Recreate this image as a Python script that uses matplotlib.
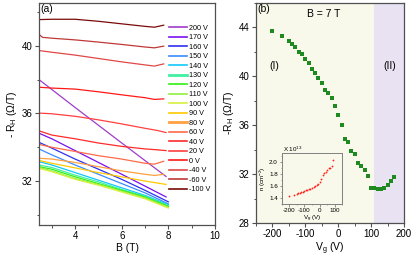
import matplotlib
matplotlib.use("Agg")
import matplotlib.pyplot as plt
from matplotlib.ticker import MultipleLocator

plt.rcParams['font.family'] = ['Liberation Sans', 'DejaVu Sans']
plt.rcParams['mathtext.fontset'] = 'custom'
plt.rcParams['mathtext.rm'] = 'Liberation Sans'
plt.rcParams['mathtext.it'] = 'Liberation Sans'
plt.rcParams['axes.unicode_minus'] = False

### data, panel (a): R_H vs B for each gate voltage ###
labels = ['200 V', '170 V', '160 V', '150 V', '140 V', '130 V', '120 V', '110 V', '100 V',
          '90 V', '80 V', '60 V', '40 V', '20 V', '0 V', '-40 V', '-60 V', '-100 V']
colors = ['#a03cc8', '#7a10f0', '#3030f0', '#3a8cff', '#10c8f8', '#40f0a0', '#30f010', '#90f040',
          '#d8f040', '#ffc800', '#ffa040', '#ff6a48', '#ff2a2a', '#ff4040', '#ff1818',
          '#e04848', '#c03838', '#7a0a0a']

B_200 = [2.45, 4, 6, 7.9]
R_200 = [38.0, 36.35, 34.25, 32.27]
B_170 = [2.45, 3, 4, 5, 6, 7, 7.9]
R_170 = [34.83, 34.5, 33.8, 33.1, 32.4, 31.7, 31.06]
B_long = [2.45, 3, 4, 5, 6, 7, 8]
R_160 = [34.29, 33.95, 33.3, 32.7, 32.1, 31.45, 30.77]
R_150 = [33.9, 33.55, 32.95, 32.4, 31.85, 31.3, 30.65]
R_140 = [33.15, 32.95, 32.5, 32.05, 31.6, 31.15, 30.6]
R_130 = [32.95, 32.8, 32.35, 31.95, 31.5, 31.1, 30.55]
R_120 = [32.85, 32.7, 32.25, 31.85, 31.45, 31.05, 30.5]
R_110 = [32.8, 32.6, 32.15, 31.8, 31.4, 31.0, 30.45]
R_100 = [32.75, 32.55, 32.1, 31.75, 31.35, 30.95, 30.4]
B_90 = [2.45, 3, 4, 5, 6, 7, 7.9]
R_90 = [33.22, 33.05, 32.78, 32.5, 32.25, 32.0, 31.8]
B_80 = [2.45, 3, 4, 5, 6, 7, 7.4, 7.8]
R_80 = [33.35, 33.3, 33.1, 32.85, 32.6, 32.4, 32.33, 32.4]
B_60 = [2.45, 3, 4, 5, 6, 7, 7.4, 7.8]
R_60 = [34.17, 34.0, 33.75, 33.5, 33.3, 33.05, 33.0, 33.17]
B_40 = [2.45, 3, 4, 5, 6, 7, 7.5, 7.9]
R_40 = [34.97, 34.72, 34.5, 34.25, 34.05, 33.9, 33.85, 33.8]
R_20 = [36.02, 35.98, 35.83, 35.62, 35.38, 35.12, 35.0, 34.87]
B_neg = [2.45, 3, 4, 5, 6, 7, 7.4, 7.8]
R_0 = [37.55, 37.5, 37.44, 37.28, 37.1, 36.93, 36.83, 36.86]
R_m40 = [39.72, 39.62, 39.45, 39.25, 39.05, 38.87, 38.8, 38.93]
B_m60 = [2.45, 2.6, 3, 4, 5, 6, 7, 7.4, 7.8]
R_m60 = [40.68, 40.5, 40.45, 40.35, 40.22, 40.08, 39.93, 39.88, 39.98]
R_m100 = [41.55, 41.57, 41.57, 41.45, 41.3, 41.15, 41.1, 41.22]

curves = [(B_200, R_200), (B_170, R_170), (B_long, R_160), (B_long, R_150), (B_long, R_140),
          (B_long, R_130), (B_long, R_120), (B_long, R_110), (B_long, R_100), (B_90, R_90),
          (B_80, R_80), (B_60, R_60), (B_40, R_40), (B_40, R_20), (B_neg, R_0),
          (B_neg, R_m40), (B_m60, R_m60), (B_neg, R_m100)]

### data, panel (b): R_H at B = 7 T vs gate voltage ###
Vg = [-200, -170, -150, -140, -130, -120, -110, -100, -90, -80, -70, -60, -50, -40, -30,
      -20, -10, 0, 10, 20, 30, 40, 50, 60, 70, 80, 90, 100, 110, 120, 130, 140, 150, 160, 170]
RH7 = [43.65, 43.27, 42.91, 42.64, 42.34, 41.96, 41.83, 41.44, 41.06, 40.55, 40.25, 39.84,
       39.43, 38.89, 38.64, 38.2, 37.53, 36.82, 36.0, 34.83, 34.61, 33.88, 33.61, 32.9, 32.68,
       32.36, 31.87, 30.89, 30.89, 30.78, 30.78, 30.89, 31.1, 31.4, 31.78]

# inset: carrier density
Vg_in = [-200, -170, -150, -140, -130, -120, -110, -100, -90, -80, -70, -60, -50, -40,
         -30, -20, -10, 0, 10, 20, 30, 40, 50, 60, 70, 80, 90]
n_in = [1.44, 1.45, 1.47, 1.48, 1.49, 1.50, 1.51, 1.52, 1.53, 1.54, 1.55, 1.56, 1.57, 1.585,
        1.60, 1.615, 1.635, 1.67, 1.72, 1.79, 1.81, 1.84, 1.86, 1.89, 1.90, 1.93, 2.03]

W, H = 415, 258
fig = plt.figure(figsize=(W / 100, H / 100), dpi=100)

def fx(px):
    return px / W

def fy(py):
    return 1 - py / H

spine_col = '#505050'

def style(ax, fs=7):
    for s in ax.spines.values():
        s.set_color(spine_col)
        s.set_linewidth(0.9)
    ax.tick_params(which='both', direction='out', color=spine_col, labelsize=fs, pad=1.5)
    ax.tick_params(which='major', length=3, width=0.8)
    ax.tick_params(which='minor', length=1.8, width=0.7)

# ---- panel (a)
ax1 = fig.add_axes([fx(39), fy(225), fx(215 - 39), (225 - 2.7) / H])
for (b, r), lab, c in zip(curves, labels, colors):
    ax1.plot(b, r, color=c, lw=0.9, label=lab)
ax1.set_xlim(2.45, 10)
ax1.set_ylim(29.4, 42.55)
ax1.xaxis.set_major_locator(MultipleLocator(2))
ax1.xaxis.set_minor_locator(MultipleLocator(1))
ax1.yaxis.set_major_locator(MultipleLocator(4))
ax1.yaxis.set_minor_locator(MultipleLocator(2))
style(ax1)
ax1.set_xlabel('B (T)', fontsize=7.5, labelpad=1)
ax1.set_ylabel('- R$_H$ ($\\Omega$/T)', fontsize=7.5, labelpad=2)
ax1.text(0.01, 0.995, '(a)', transform=ax1.transAxes, va='top', ha='left', fontsize=7.5)

leg = ax1.legend(loc='upper left', bbox_to_anchor=(fx(169), fy(24.5)),
                 bbox_transform=fig.transFigure, frameon=False, fontsize=5.2,
                 handlelength=2.5, handletextpad=0.3, labelspacing=0.34,
                 borderpad=0, borderaxespad=0)
for h, lab in zip(leg.get_lines(), labels):
    h.set_linewidth(2.0 if lab in ('130 V', '80 V') else 1.2)

# ---- panel (b)
ax2 = fig.add_axes([fx(256), fy(223), fx(404 - 256), (223 - 2.7) / H])
ax2.axvspan(-250, 110, color='#f8f9ea', lw=0, zorder=0)
ax2.axvspan(110, 200, color='#e8e2f3', lw=0, zorder=0)
ax2.plot(Vg, RH7, 's', color='#1f8a1f', ms=2.7, mew=0)
ax2.set_xlim(-250, 200)
ax2.set_ylim(28, 46)
ax2.xaxis.set_major_locator(MultipleLocator(100))
ax2.xaxis.set_minor_locator(MultipleLocator(50))
ax2.yaxis.set_major_locator(MultipleLocator(4))
ax2.yaxis.set_minor_locator(MultipleLocator(2))
style(ax2)
ax2.set_xlabel('V$_g$ (V)', fontsize=7.5, labelpad=1)
ax2.set_ylabel('-R$_H$ ($\\Omega$/T)', fontsize=7.5, labelpad=2)
ax2.text(0.01, 0.995, '(b)', transform=ax2.transAxes, va='top', ha='left', fontsize=7.5)
ax2.text(-45, 45.1, 'B = 7 T', ha='center', va='center', fontsize=7.5)
ax2.text(-193, 40.8, '(I)', ha='center', va='center', fontsize=7.5)
ax2.text(157, 40.8, '(II)', ha='center', va='center', fontsize=7.5)

# ---- inset
axi = fig.add_axes([fx(281.7), fy(204.3), fx(342.3 - 281.7), (204.3 - 153.3) / H])
axi.set_facecolor('none')
axi.plot(Vg_in, n_in, 'o', color='#ff2020', ms=1.3, mew=0)
axi.set_xlim(-250, 150)
axi.set_ylim(1.3, 2.14)
axi.set_xticks([-200, -100, 0, 100])
axi.set_yticks([1.4, 1.6, 1.8, 2.0])
axi.xaxis.set_minor_locator(MultipleLocator(50))
axi.yaxis.set_minor_locator(MultipleLocator(0.1))
for s in axi.spines.values():
    s.set_color('#808080')
    s.set_linewidth(0.7)
axi.tick_params(which='both', direction='out', color='#808080', labelsize=4.5, pad=1)
axi.tick_params(which='major', length=1.8, width=0.6)
axi.tick_params(which='minor', length=1.0, width=0.5)
axi.set_xlabel('V$_g$ (V)', fontsize=4.5, labelpad=0.5)
axi.set_ylabel('n (cm$^{-2}$)', fontsize=4.5, labelpad=1)
fig.text(fx(283), fy(149), 'X 10$^{13}$', fontsize=4.5, ha='left', va='center')

fig.savefig('out.png', dpi=100)
